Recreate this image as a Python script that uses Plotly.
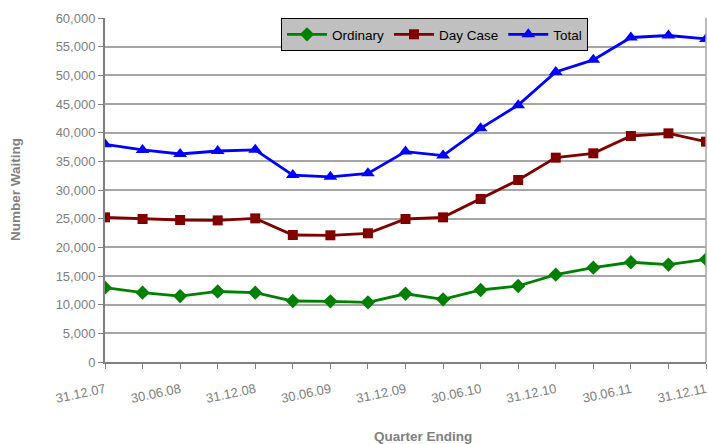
import plotly.graph_objects as go

quarters = ["31.12.07", "31.03.08", "30.06.08", "30.09.08", "31.12.08", "31.03.09",
            "30.06.09", "30.09.09", "31.12.09", "31.03.10", "30.06.10", "30.09.10",
            "31.12.10", "31.03.11", "30.06.11", "30.09.11", "31.12.11"]
ordinary = [12970, 12100, 11500, 12300, 12100, 10640, 10580, 10400, 11900, 10930,
            12560, 13260, 15230, 16450, 17400, 17000, 17900]
day_case = [25230, 24940, 24770, 24700, 25050, 22150, 22100, 22450, 24940, 25230,
            28430, 31740, 35640, 36400, 39420, 39880, 38430]
total = [37970, 36980, 36280, 36800, 37000, 32600, 32300, 32900, 36700, 36000,
         40760, 44800, 50600, 52700, 56600, 56950, 56350]

xs = list(range(len(quarters)))
ticktext = [q if i % 2 == 0 else "" for i, q in enumerate(quarters)]

fig = go.Figure()
fig.add_trace(go.Scatter(x=xs, y=ordinary, name="Ordinary", mode="lines+markers",
                         line=dict(color="#008000", width=2.8),
                         marker=dict(symbol="diamond", size=11, color="#008000")))
fig.add_trace(go.Scatter(x=xs, y=day_case, name="Day Case", mode="lines+markers",
                         line=dict(color="#800000", width=2.8),
                         marker=dict(symbol="square", size=10, color="#800000")))
fig.add_trace(go.Scatter(x=xs, y=total, name="Total", mode="lines+markers",
                         line=dict(color="#0000FF", width=2.8),
                         marker=dict(symbol="triangle-up", size=12, color="#0000FF")))

gray = "#808080"
fig.update_layout(
    width=708, height=444,
    margin=dict(l=105, r=2, t=18, b=82, autoexpand=False),
    paper_bgcolor="white", plot_bgcolor="white",
    font=dict(family="Liberation Sans, Arial, sans-serif", size=13, color=gray),
    showlegend=True,
    legend=dict(orientation="h", x=(281 - 105) / 601, y=1, xanchor="left", yanchor="top",
                bgcolor="#c0c0c0", bordercolor="black", borderwidth=1,
                font=dict(size=13.5, color="black"), itemwidth=40,
                traceorder="normal"),
    xaxis=dict(range=[0, 16], tickmode="array", tickvals=xs, ticktext=ticktext,
               tickangle=-12, ticks="outside", ticklen=5, tickcolor=gray,
               ticklabelstandoff=8,
               showline=True, linecolor=gray, linewidth=2, showgrid=False,
               zeroline=False, automargin=False,
               tickfont=dict(size=13, color=gray)),
    yaxis=dict(range=[0, 60000], dtick=5000, tickformat=",", ticks="outside",
               ticklen=5, tickcolor=gray, showline=True, linecolor=gray, linewidth=2,
               showgrid=True, gridcolor="#a6a6a6", gridwidth=1.5, zeroline=False,
               automargin=False, tickfont=dict(size=13, color=gray)),
    shapes=[dict(type="line", xref="paper", yref="paper", x0=1, x1=1, y0=0, y1=1,
                 line=dict(color="#a6a6a6", width=1.5))],
    annotations=[
        dict(text="<b>Quarter Ending</b>", xref="paper", yref="paper",
             x=(423 - 105) / 601, y=-(436 - 362) / 344, showarrow=False,
             xanchor="center", yanchor="middle",
             font=dict(size=13.5, color=gray)),
        dict(text="<b>Number Waiting</b>", xref="paper", yref="paper",
             x=-(105 - 15) / 601, y=0.5, showarrow=False, textangle=-90,
             xanchor="center", yanchor="middle",
             font=dict(size=13.5, color=gray)),
    ],
)

fig.write_html("out.html", config={"displayModeBar": False},
               post_script="document.body.style.margin='0';")
